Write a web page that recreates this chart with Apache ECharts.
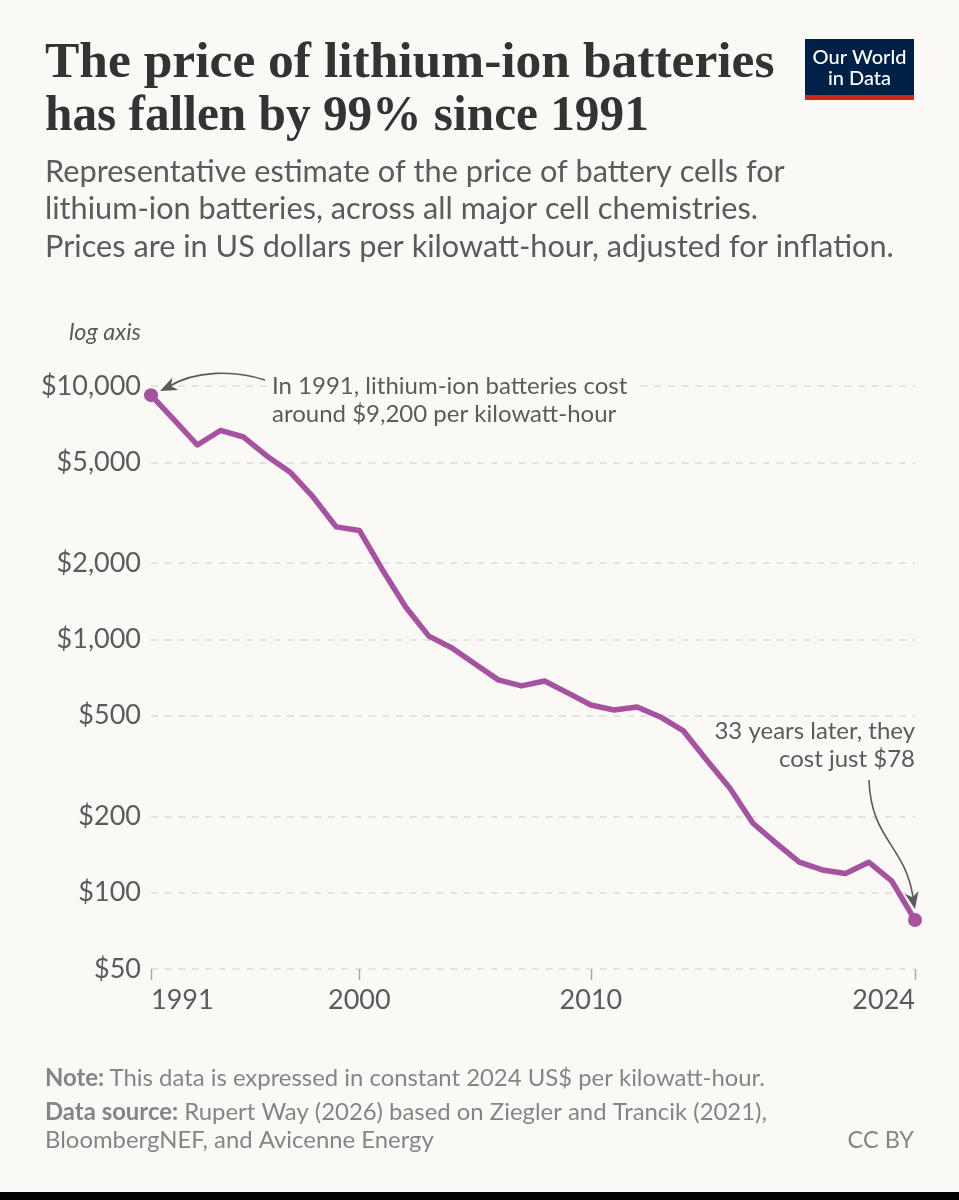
<!DOCTYPE html>
<html>
<head>
<meta charset="utf-8">
<title>Lithium-ion battery prices</title>
<script src="https://cdn.jsdelivr.net/npm/echarts@6/dist/echarts.min.js"></script>
<style>
html,body{margin:0;padding:0;background:#faf9f5;}
#chart{width:959px;height:1200px;}
</style>
</head>
<body>
<div id="chart"></div>
<script>
const years = [1991,1992,1993,1994,1995,1996,1997,1998,1999,2000,2001,2002,2003,2004,2005,2006,2007,2008,2009,2010,2011,2012,2013,2014,2015,2016,2017,2018,2019,2020,2021,2022,2023,2024]
const prices = [9200,7345,5850,6675,6290,5295,4580,3648,2780,2690,1879,1342,1030,925,800,692,655,685,615,551,526,541,494,435,334,259,188,157,132,123,119,132,111,78]
const yTicks = [50,100,200,500,1000,2000,5000,10000]
const xTicks = [1991,2000,2010,2024]

const GREY = "#5b5b5b"
const SOFT = "#858585"
const PURPLE = "#a652a0"
const BG = "#faf9f5"
const SANS = "Lato"
const SERIF = "Liberation Serif"

let chart = echarts.init(document.getElementById("chart"),null,{renderer:"canvas"})

/** 把点转成带圆点的首尾数据 */
function buildLine(){
    return years.map((y,i)=>{
        let showDot = i==0 || i==years.length-1
        return {value:[y,prices[i]],symbol:showDot?"circle":"none",symbolSize:14}
    })
}

function text(x,y,value,size,color,extra){
    return {type:"text",z:6,x:x,y:y,style:Object.assign({text:value,fontFamily:SANS,fontSize:size,fill:color},extra||{})}
}

/** 注释箭头 */
function arrow(c,hx,hy,rotate){
    return [
        {type:"bezierCurve",z:6,shape:c,style:{stroke:GREY,lineWidth:1.6,fill:null}},
        {type:"polygon",z:6,x:hx,y:hy,rotation:rotate,shape:{points:[[0,0],[-17,-7],[-12,0],[-17,7]]},style:{fill:GREY,stroke:null}}
    ]
}

const noteRich = {
    b:{fontFamily:SANS,fontWeight:"bold",fontSize:23.9,fill:SOFT,lineHeight:27.5},
    n:{fontFamily:SANS,fontSize:23.9,fill:SOFT,lineHeight:27.5}
}

let graphics = [
    {type:"rect",z:6,shape:{x:0,y:1192,width:959,height:8},style:{fill:"#000000"}},
    text(45,38,"The price of lithium-ion batteries",51.5,"#333333",{fontFamily:SERIF,fontWeight:"bold"}),
    text(45,91,"has fallen by 99% since 1991",51.5,"#333333",{fontFamily:SERIF,fontWeight:"bold"}),
    {type:"rect",z:6,shape:{x:805,y:39,width:109,height:61},style:{fill:"#002147"}},
    {type:"rect",z:6,shape:{x:805,y:95,width:109,height:5},style:{fill:"#ce261e"}},
    text(859.5,68,"Our World\nin Data",20,"#ffffff",{align:"center",verticalAlign:"middle",lineHeight:21,fontWeight:500}),
    text(45,153,"Representative estimate of the price of battery cells for\nlithium-ion batteries, across all major cell chemistries.\nPrices are in US dollars per kilowatt-hour, adjusted for inflation.",30.7,GREY,{lineHeight:37.5}),
    text(141,332,"log axis",23.5,GREY,{align:"right",verticalAlign:"middle",fontStyle:"italic"}),
    {type:"rect",z:5,shape:{x:268,y:372,width:366,height:28},style:{fill:BG}},
    text(272,372,"In 1991, lithium-ion batteries cost\naround $9,200 per kilowatt-hour",24,GREY,{lineHeight:28.5}),
    text(915,717,"33 years later, they\ncost just $78",24,GREY,{align:"right",lineHeight:28.5}),
    text(45,1065,"{b|Note:}{n|\u00a0This data is expressed in constant 2024 US$ per kilowatt-hour.}",24,SOFT,{rich:noteRich}),
    text(45,1099,"{b|Data source:}{n|\u00a0Rupert Way (2026) based on Ziegler and Trancik (2021),}\n{n|BloombergNEF, and Avicenne Energy}",24,SOFT,{rich:noteRich}),
    text(914,1140,"CC BY",23.5,SOFT,{align:"right",verticalAlign:"middle"})
]
graphics[2].scaleX = 0.957
graphics = graphics
    .concat(arrow({x1:265,y1:380,cpx1:235,cpy1:370,cpx2:195,cpy2:370,x2:168,y2:387},160,391,3.58))
    .concat(arrow({x1:869,y1:780,cpx1:871,cpy1:840,cpx2:905,cpy2:845,x2:913,y2:897},915,909,-1.37))

let option = {
    animation:false,
    backgroundColor:BG,
    grid:{left:151,right:44,top:386,bottom:231,containLabel:false},
    xAxis:{
        type:"value",min:1991,max:2024,
        axisLine:{show:false},
        splitLine:{show:false},
        axisTick:{show:true,length:11,customValues:xTicks,lineStyle:{color:"#a6a6a6",width:1.4}},
        axisLabel:{
            customValues:xTicks,margin:18,fontFamily:SANS,fontSize:27,color:GREY,
            alignMinLabel:"left",alignMaxLabel:"right",
            formatter:v=>String(v)
        }
    },
    yAxis:{
        type:"log",logBase:10,min:50,max:10000,
        axisLine:{show:false},
        axisTick:{show:false,customValues:yTicks},
        splitLine:{show:true,lineStyle:{color:"#dedcd7",width:1.5,type:[7,6.6]}},
        axisLabel:{
            customValues:yTicks,margin:10,fontFamily:SANS,fontSize:27,color:GREY,
            formatter:v=>"$"+Math.round(v).toLocaleString("en-US")
        }
    },
    series:[{
        type:"line",
        data:buildLine(),
        smooth:false,
        clip:false,
        lineStyle:{color:PURPLE,width:5.5,join:"round"},
        itemStyle:{color:PURPLE},
        emphasis:{disabled:true}
    }],
    graphic:{elements:graphics}
}
chart.setOption(option)
</script>
</body>
</html>
